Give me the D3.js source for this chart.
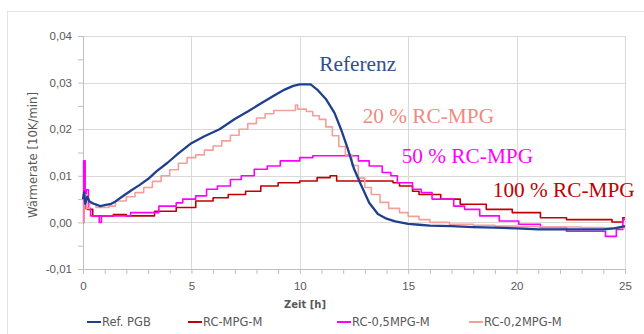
<!DOCTYPE html>
<html>
<head>
<meta charset="utf-8">
<script src="https://cdn.jsdelivr.net/npm/d3@7/dist/d3.min.js"></script>
<style>
  body { margin: 0; background: #fff; }
  svg { font-family: "DejaVu Sans", "Noto Sans", sans-serif; }
</style>
</head>
<body>
<div id="chart"></div>
<script>
// series: [Zeit h, Wärmerate]
const refPGB = [
  [0,0.005],[0.05,0.0065],[0.1,0.004],[0.2,0.0055],[0.3,0.0045],[0.5,0.004],[0.8,0.0035],[1.0,0.0037],
  [1.3,0.004],[1.5,0.0045],[1.8,0.0055],[2.2,0.0068],[2.6,0.008],[3.0,0.0093],[3.4,0.011],[3.9,0.0128],
  [4.4,0.0148],[5.0,0.017],[5.6,0.0185],[6.3,0.020],[7.0,0.0222],[7.6,0.0238],[8.2,0.0255],[8.8,0.0272],
  [9.3,0.0285],[9.7,0.0293],[10.0,0.0296],[10.5,0.0296],[10.8,0.0285],[11.2,0.0265],[11.6,0.0235],
  [11.9,0.020],[12.2,0.016],[12.5,0.0115],[12.8,0.0083],[13.2,0.0042],[13.6,0.0018],[14.0,0.0008],
  [14.4,0.0002],[15.0,-0.0003],[15.5,-0.0005],[16,-0.0007],[17,-0.0008],[18,-0.001],[19,-0.0011],
  [20,-0.0013],[21,-0.0015],[22,-0.0015],[23,-0.0015],[24,-0.0015],[24.5,-0.0013],[25,-0.0008]
];
const rcMPG = [
  [0,0.0],[0.05,0.005],[0.1,0.003],[0.2,0.0028],[0.45,0.0014],[1.4,0.0017],[2.0,0.0014],[3.3,0.0024],
  [4.3,0.0032],[5.2,0.0046],[6.0,0.0053],[6.7,0.006],[7.5,0.0067],[8.2,0.0078],[9.0,0.0085],[10.0,0.0089],
  [10.8,0.0096],[11.4,0.01],[11.7,0.0089],[14.3,0.0085],[14.6,0.0078],[15.2,0.0067],[15.5,0.006],
  [16.5,0.005],[17.4,0.0039],[18.6,0.0028],[19.8,0.0021],[21.1,0.001],[22.3,0.0006],[24.4,0.0001],
  [24.9,0.001],[25,0.001]
];
const rc05MPG = [
  [0,0.0],[0.03,0.0132],[0.1,0.005],[0.15,0.007],[0.25,0.003],[0.35,0.0014],[0.75,0.0],[0.85,0.0014],
  [2.2,0.0021],[3.5,0.0035],[4.3,0.0042],[4.6,0.005],[5.2,0.0057],[5.7,0.0071],[6.2,0.0078],[6.8,0.0092],
  [7.3,0.01],[7.9,0.0114],[8.5,0.0121],[9.1,0.0132],[10.0,0.0139],[10.6,0.0143],[12.7,0.0132],
  [13.2,0.0121],[13.8,0.0107],[14.2,0.01],[14.5,0.0085],[15.2,0.0071],[15.6,0.0064],[16.1,0.005],
  [17.1,0.0035],[17.6,0.0028],[18.3,0.0014],[19.2,0.0003],[20.1,-0.0004],[21.1,-0.0011],[22.3,-0.0019],
  [23.6,-0.0019],[24.1,-0.003],[24.6,-0.0015],[24.9,0.0006],[25,0.0006]
];
const rc02MPG = [
  [0,0.0],[0.05,0.006],[0.15,0.003],[0.3,0.004],[0.6,0.0032],[1.2,0.0035],[1.5,0.0046],[2.0,0.0055],
  [2.4,0.0064],[2.8,0.0075],[3.2,0.0088],[3.6,0.010],[4.0,0.0113],[4.4,0.0127],[4.8,0.0139],[5.2,0.0145],
  [5.6,0.0155],[6.0,0.0164],[6.4,0.0175],[6.8,0.0187],[7.2,0.020],[7.6,0.0212],[8.0,0.0224],[8.4,0.0233],
  [8.8,0.024],[9.8,0.0252],[9.9,0.0243],[10.3,0.0238],[10.6,0.0229],[10.9,0.0221],[11.2,0.0205],
  [11.5,0.0186],[11.8,0.0163],[12.1,0.0145],[12.4,0.0122],[12.7,0.0095],[13.0,0.0075],[13.3,0.006],
  [13.7,0.0043],[14.1,0.003],[14.6,0.0021],[15.0,0.0013],[15.5,0.0006],[16.0,0.0],[16.9,-0.0004],
  [18,-0.0006],[19,-0.0008],[20,-0.0009],[21,-0.001],[22,-0.001],[23,-0.0011],[24,-0.0012],[25,-0.0012]
];

const seriesNames = ['Ref. PGB', 'RC-MPG-M', 'RC-0,5MPG-M', 'RC-0,2MPG-M'];
const seriesColors = ['#1f3f8f', '#c00000', '#ff00ff', '#f4a09a'];
const yTicks = [-0.01, 0, 0.01, 0.02, 0.03, 0.04];
const xTicks = [0, 5, 10, 15, 20, 25];
const notes = [
  { text: 'Referenz', x: 10.9, y: 0.0325, color: '#2f4f8f' },
  { text: '20 % RC-MPG', x: 12.9, y: 0.0214, color: '#f08a80' },
  { text: '50 % RC-MPG', x: 14.7, y: 0.0127, color: '#ff00ff' },
  { text: '100 % RC-MPG', x: 18.9, y: 0.0055, color: '#c00000' }
];

const width = 644, height = 334;
const margin = { top: 36, right: 19, bottom: 65, left: 83 };
const w = width - margin.left - margin.right;
const h = height - margin.top - margin.bottom;

const svg = d3.select('#chart').append('svg')
  .attr('width', width)
  .attr('height', height);

// outer frame
svg.append('rect')
  .attr('x', 7.5).attr('y', 11.5)
  .attr('width', width).attr('height', height)
  .attr('fill', 'none').attr('stroke', '#e3e3e3');

const g = svg.append('g')
  .attr('transform', `translate(${margin.left},${margin.top})`);

const x = d3.scaleLinear().domain([0, 25]).range([0, w]);
const y = d3.scaleLinear().domain([-0.01, 0.04]).range([h, 0]);

// grid
g.selectAll('.hgrid').data(yTicks).enter().append('line')
  .attr('x1', 0).attr('x2', w)
  .attr('y1', d => Math.round(y(d)) + 0.5).attr('y2', d => Math.round(y(d)) + 0.5)
  .attr('stroke', '#d9d9d9');
g.selectAll('.vgrid').data(xTicks).enter().append('line')
  .attr('y1', 0).attr('y2', h)
  .attr('x1', d => Math.round(x(d)) + 0.5).attr('x2', d => Math.round(x(d)) + 0.5)
  .attr('stroke', '#d9d9d9');

// axes
const yAxis = g.append('g')
  .call(d3.axisLeft(y).tickValues(d3.range(-0.01, 0.0401, 0.005)).tickSize(5)
    .tickFormat(d => Math.abs(Math.round(d * 1000) % 10) === 0 ? d3.format('.2f')(d).replace('.', ',').replace('−', '-') : ''));
yAxis.select('.domain').attr('stroke', '#bfbfbf');
yAxis.selectAll('.tick line').attr('stroke', '#bfbfbf');
yAxis.selectAll('.tick text').attr('x', -11).attr('fill', '#595959')
  .style('font-size', '11.5px');

const xAxis = g.append('g')
  .attr('transform', `translate(0,${h})`)
  .call(d3.axisBottom(x).tickValues(d3.range(0, 26, 1)).tickSize(5)
    .tickFormat(d => d % 5 === 0 ? d : ''));
xAxis.select('.domain').attr('stroke', '#bfbfbf');
xAxis.selectAll('.tick line').attr('stroke', '#bfbfbf');
xAxis.selectAll('.tick text').attr('y', 13).attr('fill', '#595959')
  .style('font-size', '11.5px');

// axis titles
svg.append('text')
  .attr('transform', 'translate(37,155) rotate(-90)')
  .attr('text-anchor', 'middle')
  .attr('fill', '#595959')
  .attr('textLength', 126)
  .attr('lengthAdjust', 'spacingAndGlyphs')
  .style('font-size', '12.5px')
  .text('Wärmerate [10K/min]');
svg.append('text')
  .attr('x', 305).attr('y', 308)
  .attr('text-anchor', 'middle')
  .attr('fill', '#595959')
  .style('font-size', '10px').style('font-weight', 'bold')
  .text('Zeit [h]');

// lines
const line = d3.line()
  .x(d => x(d[0]))
  .y(d => y(d[1]));
const stepLine = d3.line()
  .x(d => x(d[0]))
  .y(d => y(d[1]))
  .curve(d3.curveStepAfter);

const data = [refPGB, rcMPG, rc05MPG, rc02MPG];
// red, magenta, salmon first, blue on top
[1, 2, 3, 0].forEach(i => {
  g.append('path')
    .datum(data[i])
    .attr('fill', 'none')
    .attr('stroke', seriesColors[i])
    .attr('stroke-width', i === 0 ? 2.3 : 1.6)
    .attr('stroke-linejoin', 'round')
    .attr('d', i === 0 ? line : stepLine);
});

// annotations
g.selectAll('.note').data(notes).enter().append('text')
  .attr('x', d => x(d.x)).attr('y', d => y(d.y))
  .attr('fill', d => d.color)
  .style('font-family', '"Liberation Serif", "DejaVu Serif", serif')
  .style('font-size', '21.3px')
  .text(d => d.text);

// legend
const legendX = [87, 188, 337, 469];
const legend = svg.append('g').attr('transform', 'translate(0,322)');
seriesNames.forEach((name, i) => {
  const lg = legend.append('g').attr('transform', `translate(${legendX[i]},0)`);
  lg.append('line').attr('x1', 0).attr('x2', 14).attr('y1', 0).attr('y2', 0)
    .attr('stroke', seriesColors[i]).attr('stroke-width', 2);
  lg.append('text').attr('x', 15).attr('y', 4)
    .attr('fill', '#595959').style('font-size', '11.5px')
    .text(name);
});
</script>
</body>
</html>
